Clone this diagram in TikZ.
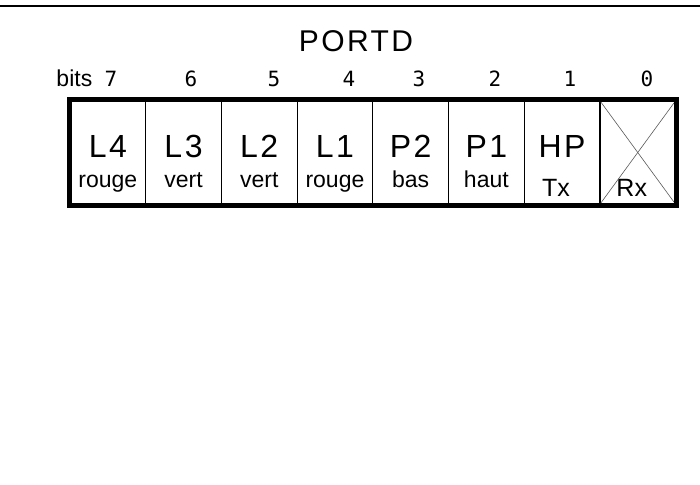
\documentclass[tikz,border=0pt]{standalone}
\usepackage{fontspec}
\setmainfont{Liberation Sans}
\newfontfamily\bigfont[LetterSpace=8]{Liberation Sans}
\newfontfamily\bitfont{DejaVu Sans Mono}
\usetikzlibrary{positioning}
\begin{document}
\begin{tikzpicture}[
    x=1pt, y=-1pt,
    cell/.style={
        draw, line width=1.2pt, inner sep=0pt,
        minimum width=75.7pt, minimum height=104pt
    },
    biglabel/.style={anchor=base, inner sep=0pt, font=\bigfont\fontsize{32}{32}\selectfont},
    sublabel/.style={anchor=base, inner sep=0pt, font=\fontsize{23}{23}\selectfont},
    pinlabel/.style={anchor=base, inner sep=0pt, font=\fontsize{25}{25}\selectfont},
    bitnum/.style={anchor=base, inner sep=0pt, font=\bitfont\fontsize{21}{21}\selectfont}
]
\useasboundingbox (0,0) rectangle (700,484);

\def\dx{75.7}

% rule at the top
\draw[line width=2pt] (0,6) -- (700,6);

% register name
\node[biglabel, font=\bigfont\fontsize{30}{30}\selectfont] (title) at (356,52) {PORTD};

% the eight bit cells, bit 7 on the left
\foreach \b in {7,...,0}{
  \node[cell] (c\b) at ({70+(7-\b+0.5)*\dx}, 152.5) {};
}

% what sits on each bit
\foreach \b/\name/\what in {7/L4/rouge, 6/L3/vert, 5/L2/vert, 4/L1/rouge,
                            3/P2/bas, 2/P1/haut}{
  \node[biglabel] (n\b) at ([yshift=-4.5pt]c\b) {\name};
  \node[sublabel] (s\b) at ([yshift=-34.5pt]c\b) {\what};
}
\node[biglabel] (n1) at ([yshift=-4.5pt]c1) {HP};
\node[pinlabel] (s1) at ([xshift=-6pt, yshift=-43.5pt]c1) {Tx};
\node[pinlabel] (s0) at ([xshift=-6pt, yshift=-43.5pt]c0) {Rx};

% bit 0 not used
\draw[gray!70!black, line width=0.6pt] (c0.north west) -- (c0.south east);
\draw[gray!70!black, line width=0.6pt] (c0.north east) -- (c0.south west);

% thick frame round the register
\draw[line width=5pt] (c7.north west) rectangle (c0.south east);

% bit numbers
\foreach \b/\x in {7/111, 6/191, 5/274, 4/349, 3/419, 2/495, 1/570, 0/647}{
  \node[bitnum] (b\b) at (\x, 87) {\b};
}
\node[anchor=base east, inner sep=0pt, font=\fontsize{23}{23}\selectfont]
  (bits) at ([xshift=-12pt]b7.base west) {bits};

\end{tikzpicture}
\end{document}
